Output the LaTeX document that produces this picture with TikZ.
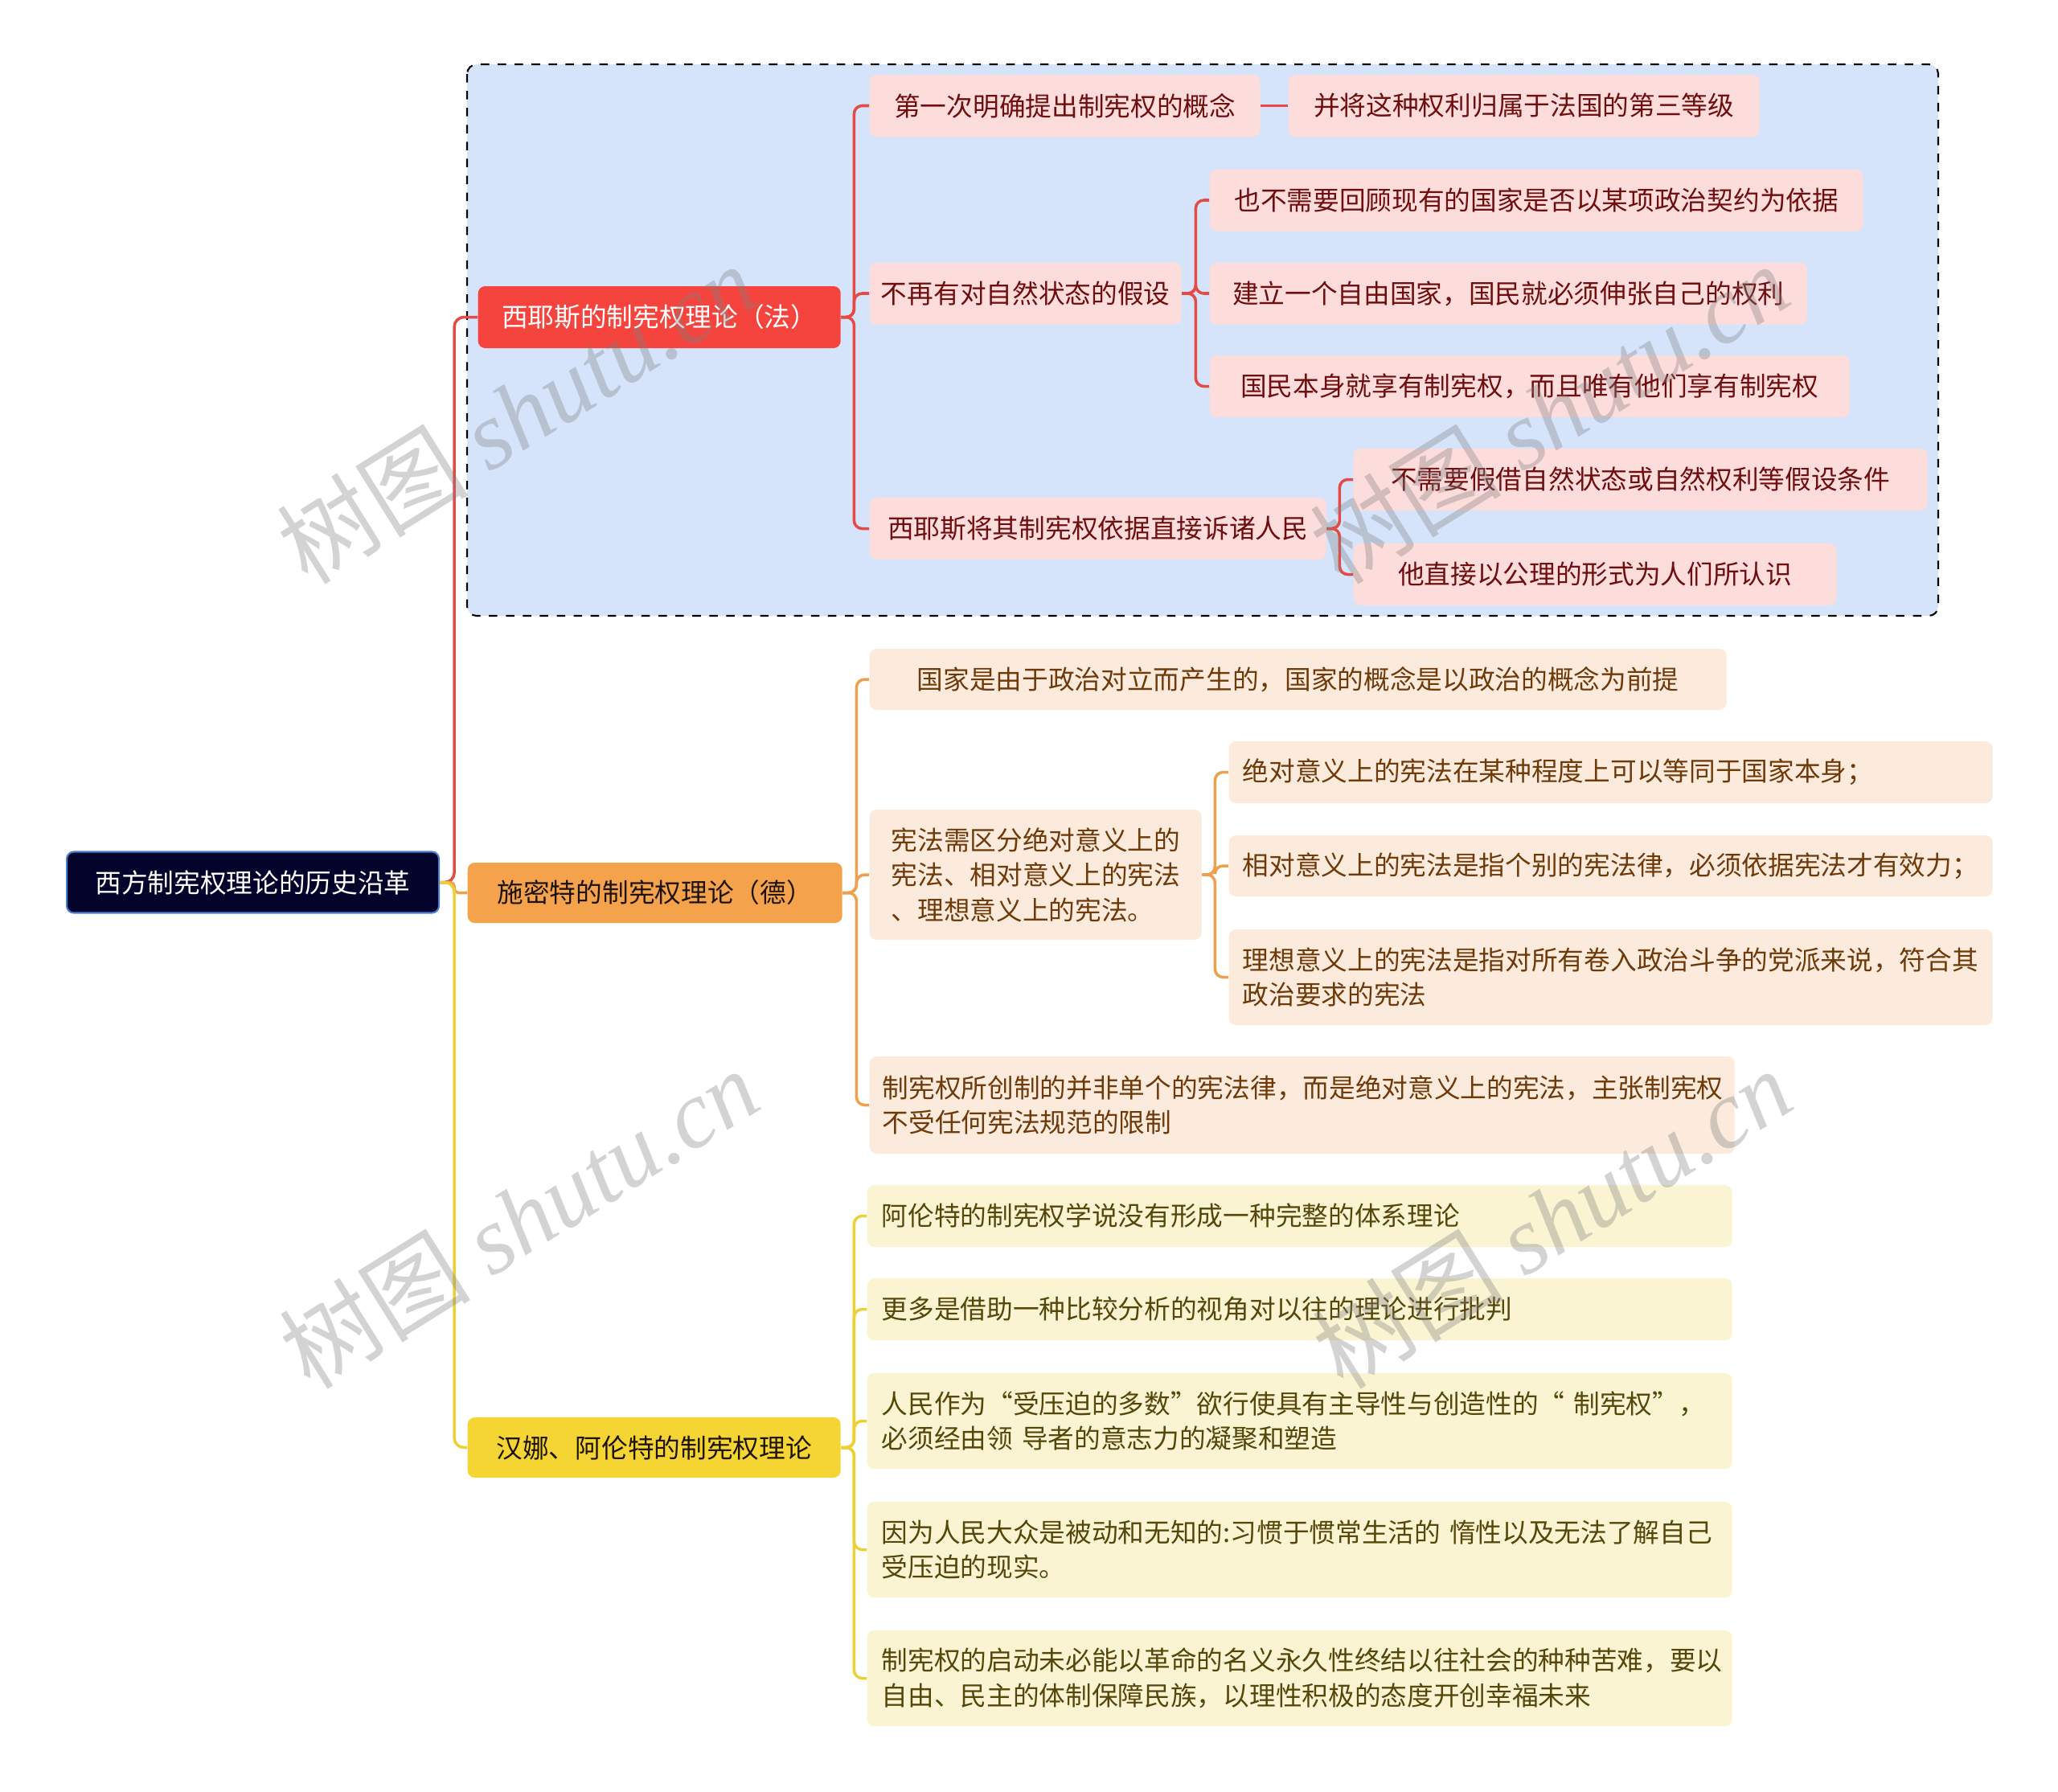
\documentclass[tikz,border=0pt]{standalone}
\usepackage{fontspec}
\setmainfont{Noto Sans CJK SC}
\newfontfamily\wmfont{Liberation Serif}
\usetikzlibrary{positioning}

\definecolor{rootfill}{HTML}{03032B}
\definecolor{rootedge}{HTML}{4A7FD0}
\definecolor{regionfill}{HTML}{D6E4FB}
\definecolor{redfill}{HTML}{F5443D}
\definecolor{orangefill}{HTML}{F5A24D}
\definecolor{yellowfill}{HTML}{F4D533}
\definecolor{pinkleaf}{HTML}{FDDCDC}
\definecolor{peachleaf}{HTML}{FCEBDC}
\definecolor{creamleaf}{HTML}{FBF4D2}
\definecolor{pinktext}{HTML}{6E0E0E}
\definecolor{peachtext}{HTML}{6E3A0A}
\definecolor{creamtext}{HTML}{55460A}
\definecolor{redline}{HTML}{E54A45}
\definecolor{orangeline}{HTML}{EFA04E}
\definecolor{yellowline}{HTML}{EDD035}

\begin{document}
\begin{tikzpicture}[
    box/.style={rounded corners=2.5pt, inner sep=0pt, anchor=west, align=center,
      font=\fontsize{9.3}{12.4}\selectfont},
    rootbox/.style={box, fill=rootfill, draw=rootedge, line width=0.6pt, text=white, minimum height=0.76cm},
    topicR/.style={box, fill=redfill, text=white, minimum height=0.77cm},
    topicO/.style={box, fill=orangefill, text=black!85!brown, minimum height=0.75cm},
    topicY/.style={box, fill=yellowfill, text=black!85!brown, minimum height=0.75cm},
    leafR/.style={box, fill=pinkleaf, text=pinktext, minimum height=0.77cm},
    leafO/.style={box, fill=peachleaf, text=peachtext, minimum height=0.77cm},
    leafY/.style={box, fill=creamleaf, text=creamtext, minimum height=0.77cm, align=left,
      text width=10.40cm, inner xsep=0.18cm},
    linkR/.style={draw=redline, line width=1pt, rounded corners=0.1cm},
    linkO/.style={draw=orangeline, line width=1pt, rounded corners=0.1cm},
    linkY/.style={draw=yellowline, line width=1pt, rounded corners=0.1cm},
    wm/.style={text=gray, opacity=0.35, font=\fontsize{34}{40}\selectfont, rotate=32}
  ]
  \useasboundingbox (0,0) rectangle (25.6,-22.28);

  % Shaded region round the first branch
  \draw[fill=regionfill, draw=black, dashed, line width=0.6pt, rounded corners=0.12cm]
    (5.81,-0.80) rectangle (24.11,-7.66);

  % Root and main topics
  \node[rootbox, minimum width=4.63cm] (root) at (0.82,-10.975) {西方制宪权理论的历史沿革};
  \node[topicR, minimum width=4.51cm] (b1) at (5.94,-3.945) {西耶斯的制宪权理论（法）};
  \node[topicO, minimum width=4.66cm] (b2) at (5.81,-11.105) {施密特的制宪权理论（德）};
  \node[topicY, minimum width=4.64cm] (b3) at (5.81,-18.005) {汉娜、阿伦特的制宪权理论};

  % Sieyes branch
  \node[leafR, minimum width=4.86cm] (c11) at (10.81,-1.315) {第一次明确提出制宪权的概念};
  \node[leafR, minimum width=5.86cm] (c111) at (16.02,-1.315) {并将这种权利归属于法国的第三等级};
  \node[leafR, minimum width=3.88cm] (c12) at (10.81,-3.65) {不再有对自然状态的假设};
  \node[leafR, minimum width=8.13cm] (c121) at (15.04,-2.49) {也不需要回顾现有的国家是否以某项政治契约为依据};
  \node[leafR, minimum width=7.43cm] (c122) at (15.04,-3.65) {建立一个自由国家，国民就必须伸张自己的权利};
  \node[leafR, minimum width=7.96cm] (c123) at (15.04,-4.805) {国民本身就享有制宪权，而且唯有他们享有制宪权};
  \node[leafR, minimum width=5.68cm] (c13) at (10.81,-6.575) {西耶斯将其制宪权依据直接诉诸人民};
  \node[leafR, minimum width=7.14cm] (c131) at (16.83,-5.965) {不需要假借自然状态或自然权利等假设条件};
  \node[leafR, minimum width=6.01cm] (c132) at (16.83,-7.145) {他直接以公理的形式为人们所认识};

  % Schmitt branch
  \node[leafO, minimum width=10.66cm, minimum height=0.76cm] (c21) at (10.81,-8.45)
    {国家是由于政治对立而产生的，国家的概念是以政治的概念为前提};
  \node[leafO, align=left, text width=3.59cm, inner xsep=0.27cm, minimum height=1.62cm] (c22) at (10.81,-10.88)
    {宪法需区分绝对意义上的\\宪法、相对意义上的宪法\\、理想意义上的宪法。};
  \node[leafO, align=left, text width=9.16cm, inner xsep=0.17cm] (c221) at (15.28,-9.605)
    {绝对意义上的宪法在某种程度上可以等同于国家本身；};
  \node[leafO, align=left, text width=9.16cm, inner xsep=0.17cm, minimum height=0.76cm] (c222) at (15.28,-10.77)
    {相对意义上的宪法是指个别的宪法律，必须依据宪法才有效力；};
  \node[leafO, align=left, text width=9.16cm, inner xsep=0.17cm, minimum height=1.19cm] (c223) at (15.28,-12.155)
    {理想意义上的宪法是指对所有卷入政治斗争的党派来说，符合其\\政治要求的宪法};
  \node[leafO, align=left, text width=10.44cm, inner xsep=0.16cm, minimum height=1.21cm] (c23) at (10.81,-13.745)
    {制宪权所创制的并非单个的宪法律，而是绝对意义上的宪法，主张制宪权\\不受任何宪法规范的限制};

  % Arendt branch
  \node[leafY] (c31) at (10.78,-15.125) {阿伦特的制宪权学说没有形成一种完整的体系理论};
  \node[leafY] (c32) at (10.78,-16.285) {更多是借助一种比较分析的视角对以往的理论进行批判};
  \node[leafY, minimum height=1.19cm] (c33) at (10.78,-17.675)
    {人民作为“受压迫的多数”欲行使具有主导性与创造性的“~制宪权”，\\必须经由领~导者的意志力的凝聚和塑造};
  \node[leafY, minimum height=1.19cm] (c34) at (10.78,-19.275)
    {因为人民大众是被动和无知的:习惯于惯常生活的~惰性以及无法了解自己\\受压迫的现实。};
  \node[leafY, minimum height=1.19cm] (c35) at (10.78,-20.875)
    {制宪权的启动未必能以革命的名义永久性终结以往社会的种种苦难，要以\\自由、民主的体制保障民族，以理性积极的态度开创幸福未来};

  % Connectors from the root
  \draw[linkR, rounded corners=0.12cm] (root.east) -- ++(0.18,0) |- (b1.west);
  \draw[linkO, rounded corners=0.05cm] (root.east) -- ++(0.18,0) |- (b2.west);
  \draw[linkY, rounded corners=0.12cm] (root.east) -- ++(0.18,0) |- (b3.west);

  % Connectors, Sieyes
  \foreach \c in {c11,c12,c13}
    \draw[linkR] (b1.east) -- ++(0.16,0) |- (\c.west);
  \draw[linkR] (c11.east) -- (c111.west);
  \foreach \c in {c121,c122,c123}
    \draw[linkR] (c12.east) -- ++(0.17,0) |- (\c.west);
  \foreach \c in {c131,c132}
    \draw[linkR] (c13.east) -- ++(0.16,0) |- (\c.west);

  % Connectors, Schmitt
  \foreach \c in {c21,c22,c23}
    \draw[linkO] (b2.east) -- ++(0.17,0) |- (\c.west);
  \foreach \c in {c221,c222,c223}
    \draw[linkO] (c22.east) -- ++(0.16,0) |- (\c.west);

  % Connectors, Arendt
  \foreach \c in {c31,c32,c33,c34,c35}
    \draw[linkY] (b3.east) -- ++(0.16,0) |- (\c.west);

  % Watermarks
  \node[wm] (wm1) at (6.42,-5.14) {树图 {\wmfont\itshape shutu.cn}};
  \node[wm] (wm2) at (19.27,-5.14) {树图 {\wmfont\itshape shutu.cn}};
  \node[wm] (wm3) at (6.45,-15.15) {树图 {\wmfont\itshape shutu.cn}};
  \node[wm] (wm4) at (19.30,-15.15) {树图 {\wmfont\itshape shutu.cn}};
\end{tikzpicture}
\end{document}
